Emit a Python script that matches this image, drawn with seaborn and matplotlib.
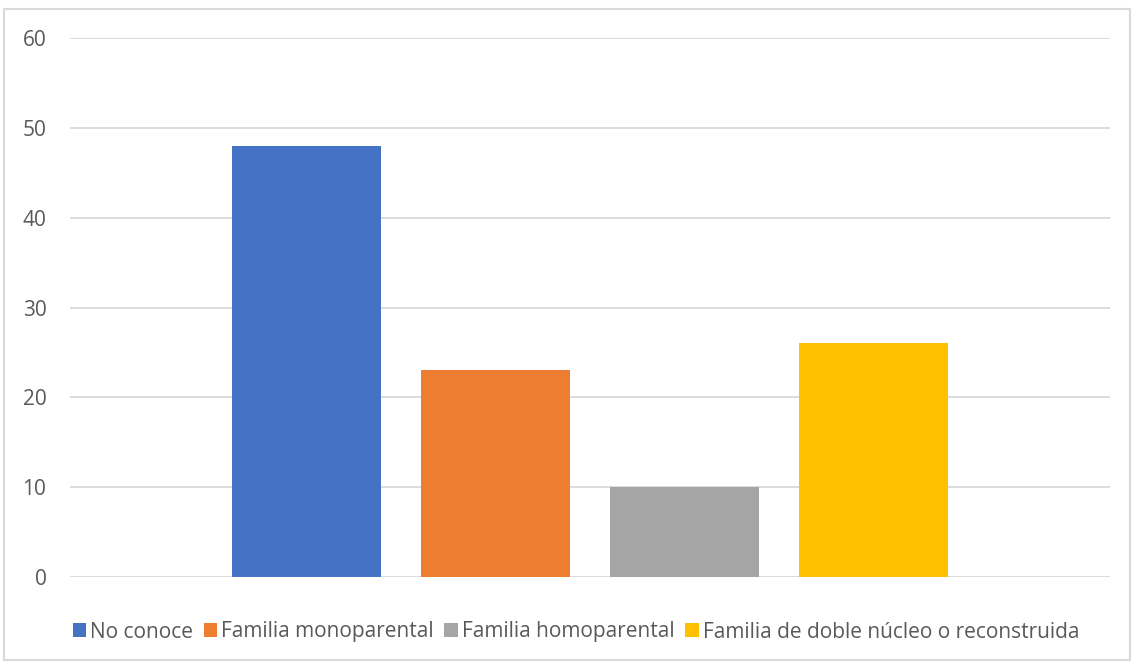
import matplotlib
matplotlib.use("Agg")
import matplotlib.pyplot as plt
import seaborn as sns
import pandas as pd
from matplotlib.patches import Rectangle

categories = ["No conoce", "Familia monoparental", "Familia homoparental",
              "Familia de doble núcleo o reconstruida"]
values = [48, 23, 10, 26]
colors = ["#4472C4", "#ED7D31", "#A5A5A5", "#FFC000"]
yticks = [0, 10, 20, 30, 40, 50, 60]

sns.set_theme(style="white")
plt.rcParams['font.family'] = ['Open Sans', 'DejaVu Sans']

df = pd.DataFrame({"grupo": [""] * len(categories), "serie": categories, "valor": values})

fig = plt.figure(figsize=(11.34, 6.64), dpi=100)
fig.patches.append(Rectangle((4 / 1134, 4 / 664), 1126 / 1134, 651 / 664,
                             transform=fig.transFigure, fill=False,
                             edgecolor="#D9D9D9", linewidth=1.5))
ax = fig.add_axes([70 / 1134, 87 / 664, 1040 / 1134, 539 / 664])
sns.barplot(data=df, x="grupo", y="valor", hue="serie", hue_order=categories,
            palette=colors, width=0.727, gap=0.21, ax=ax, saturation=1,
            linewidth=0, legend=True)
ax.set_xlim(-0.5, 0.5)
ax.set_ylim(0, 60)
ax.set_yticks(yticks)
ax.yaxis.grid(True, color="#D9D9D9", linewidth=1.3)
ax.set_axisbelow(True)
for s in ax.spines.values():
    s.set_visible(False)
ax.set_xlabel("")
ax.set_ylabel("")
ax.set_xticks([])
ax.tick_params(axis="y", length=0, pad=17, labelsize=15, labelcolor="#595959")

handles, labels = ax.get_legend_handles_labels()
ax.legend_.remove()
fig.legend(handles, labels, loc="center", bbox_to_anchor=(576 / 1134, 1 - 632 / 664),
           ncol=4, frameon=False, fontsize=15, labelcolor="#595959",
           handlelength=0.65, handleheight=0.65, handletextpad=0.2, columnspacing=0.5)

fig.savefig("out.png", dpi=100)
